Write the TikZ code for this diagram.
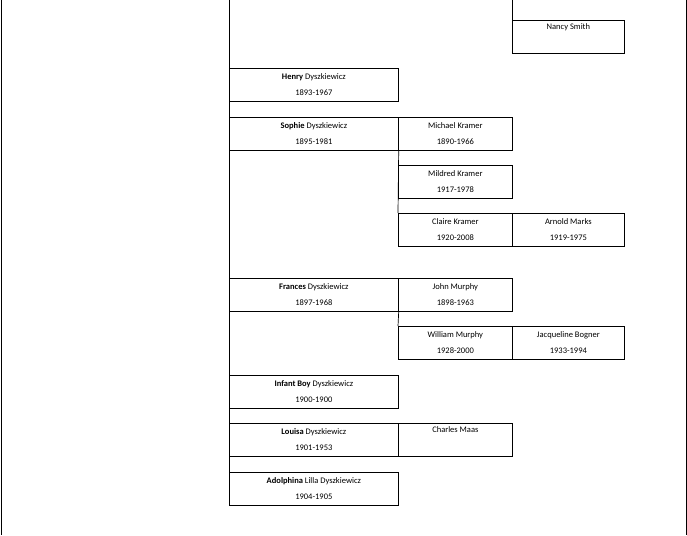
\documentclass[tikz,border=0pt]{standalone}
\usepackage{fontspec}
\setmainfont{Carlito}
\usetikzlibrary{positioning}
\tikzset{
  person/.style={draw,anchor=north west,align=center,minimum height=33pt,
    inner sep=0pt,font=\fontsize{8.5}{16}\selectfont},
  wide/.style={person,minimum width=169pt},
  mid/.style={person,minimum width=114pt},
  tree/.style={line width=0.7pt}
}
\begin{document}
\begin{tikzpicture}[x=1pt,y=-1pt,tree]
	\useasboundingbox (0,0) rectangle (687,535);
	\draw (1,0) -- (1,535);
	\draw (686,0) -- (686,535);
	% children of the family
	\node[mid,minimum width=112pt] (nancy) at (512,20) {Nancy Smith\\\strut};
	\node[wide] (henry) at (229,68) {\textbf{Henry} Dyszkiewicz\\1893-1967};
	\node[wide] (sophie) at (229,117) {\textbf{Sophie} Dyszkiewicz\\1895-1981};
	\node[mid] (michael) at (398,117) {Michael Kramer\\1890-1966};
	\node[mid] (mildred) at (398,165) {Mildred Kramer\\1917-1978};
	\node[mid] (claire) at (398,213) {Claire Kramer\\1920-2008};
	\node[mid,minimum width=112pt] (arnold) at (512,213) {Arnold Marks\\1919-1975};
	\node[wide] (frances) at (229,278) {\textbf{Frances} Dyszkiewicz\\1897-1968};
	\node[mid] (john) at (398,278) {John Murphy\\1898-1963};
	\node[mid] (william) at (398,326) {William Murphy\\1928-2000};
	\node[mid,minimum width=112pt] (jacqueline) at (512,326) {Jacqueline Bogner\\1933-1994};
	\node[wide] (infant) at (229,375) {\textbf{Infant Boy} Dyszkiewicz\\1900-1900};
	\node[wide] (louisa) at (229,423) {\textbf{Louisa} Dyszkiewicz\\1901-1953};
	\node[mid] (charles) at (398,423) {Charles Maas\\\strut};
	\node[wide] (adolphina) at (229,472) {\textbf{Adolphina} Lilla Dyszkiewicz\\1904-1905};
	% connectors
	\coordinate (top) at (229,0);
	\coordinate (ntop) at (512,0);
	\draw (top) -- (adolphina.north west);
	\draw (ntop) -- (nancy.north west);
	\draw (sophie.south east) -- (claire.north west);
	\draw (frances.south east) -- (william.north west);
\end{tikzpicture}
\end{document}
